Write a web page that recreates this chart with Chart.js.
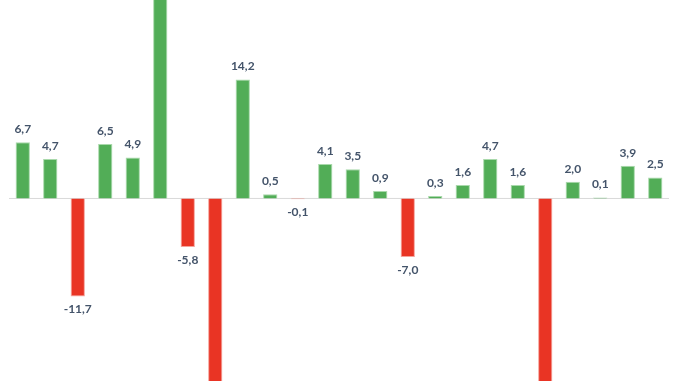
<!DOCTYPE html>
<html>
<head>
<meta charset="utf-8">
<script src="https://cdn.jsdelivr.net/npm/chart.js@4"></script>
<style>
  html, body { margin: 0; padding: 0; background: #fff; }
  #wrap { width: 678px; height: 381px; }
</style>
</head>
<body>
<div id="wrap"><canvas id="chart"></canvas></div>
<script>
// periods along the x axis (not shown in the picture)
const periods = ["1", "2", "3", "4", "5", "6", "7", "8", "9", "10", "11", "12",
  "13", "14", "15", "16", "17", "18", "19", "20", "21", "22", "23", "24"];
// values; three bars run off the picture, so those are estimates
const values = [6.7, 4.7, -11.7, 6.5, 4.9, 27.0, -5.8, -24.0, 14.2, 0.5, -0.1, 4.1,
  3.5, 0.9, -7.0, 0.3, 1.6, 4.7, 1.6, -23.0, 2.0, 0.1, 3.9, 2.5];
const yRange = [-21.8, 23.7];

const green = "#52ad57", greenEdge = "#a9d9ab";
const red = "#e93424", redEdge = "#f5a39b";

const labelPlugin = {
  id: "barLabels",
  afterDatasetsDraw(chart) {
    const c = chart.ctx;
    const meta = chart.getDatasetMeta(0);
    c.save();
    c.font = "bold 12px Lato, 'Open Sans', sans-serif";
    c.fillStyle = "#44546a";
    c.textAlign = "center";
    c.textBaseline = "middle";
    meta.data.forEach((bar, i) => {
      const v = values[i];
      const txt = v.toFixed(1).replace(".", ",");
      const y = v >= 0 ? bar.y - 13 : bar.y + 13;
      c.fillText(txt, bar.x, y);
    });
    c.restore();
  }
};

const zeroLine = {
  id: "zeroLine",
  beforeDatasetsDraw(chart) {
    const c = chart.ctx, area = chart.chartArea;
    const y = chart.scales.y.getPixelForValue(0);
    c.save();
    c.strokeStyle = "#d9d9d9";
    c.lineWidth = 1;
    c.beginPath();
    c.moveTo(area.left, y);
    c.lineTo(area.right, y);
    c.stroke();
    c.restore();
  }
};

new Chart(document.getElementById("chart"), {
  type: "bar",
  data: {
    labels: periods,
    datasets: [{
      data: values,
      backgroundColor: values.map(v => v >= 0 ? green : red),
      borderColor: values.map(v => v >= 0 ? greenEdge : redEdge),
      borderWidth: 1,
      barPercentage: 0.52,
      categoryPercentage: 1
    }]
  },
  options: {
    responsive: true,
    maintainAspectRatio: false,
    animation: false,
    layout: { padding: { left: 9, right: 9, top: 0, bottom: 0 } },
    plugins: { legend: { display: false }, tooltip: { enabled: false } },
    scales: {
      x: { display: false },
      y: { display: false, min: yRange[0], max: yRange[1] }
    }
  },
  plugins: [zeroLine, labelPlugin]
});
</script>
</body>
</html>
